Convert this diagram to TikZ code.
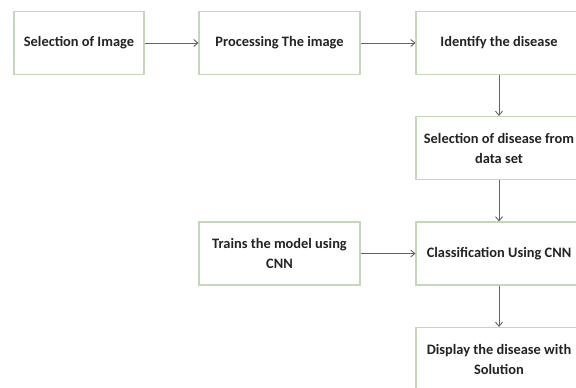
\documentclass[tikz,border=0pt]{standalone}
\usepackage{fontspec}
\setmainfont{Carlito}
\usepackage{tikz}
\usetikzlibrary{arrows.meta,positioning}
\definecolor{boxgreen}{RGB}{198,214,184}
\definecolor{arrowgrey}{RGB}{100,100,100}
\definecolor{textdark}{RGB}{35,35,35}

\begin{document}
\begin{tikzpicture}[x=1pt, y=-1pt,
    stage/.style={rectangle, draw=boxgreen, line width=1.2pt, fill=white,
                  minimum width=161pt, minimum height=63pt, align=center,
                  text=textdark, font=\fontsize{14.4}{20}\selectfont\bfseries},
    flow/.style={draw=arrowgrey, line width=0.9pt, -{Straight Barb[length=4pt, width=7pt]}}
]
    \useasboundingbox (0,0) rectangle (576,388);
    \clip (0,0) rectangle (576,388);
    \node[stage, minimum width=130pt] (selimg) at (79,43) {Selection of Image};
    \node[stage] (procimg) at (279.5,43) {Processing The image};
    \node[stage, minimum width=166pt] (ident) at (499,43) {Identify the disease};
    \node[stage, minimum width=166pt] (seldata) at (499,148) {Selection of disease from\\data set};
    \node[stage] (train) at (279.5,253.5) {Trains the model using\\CNN};
    \node[stage, minimum width=166pt] (classify) at (499,253.5) {Classification Using CNN};
    \node[stage, minimum width=166pt] (display) at (499,359) {Display the disease with\\Solution};
    \draw[flow] (selimg) -- (procimg);
    \draw[flow] (procimg) -- (ident);
    \draw[flow] (ident) -- (seldata);
    \draw[flow] (seldata) -- (classify);
    \draw[flow] (train) -- (classify);
    \draw[flow] (classify) -- (display);
\end{tikzpicture}
\end{document}
